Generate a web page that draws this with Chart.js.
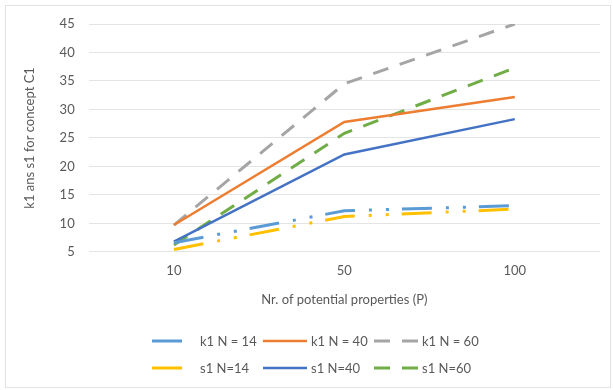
<!DOCTYPE html>
<html>
<head>
<meta charset="utf-8">
<script src="https://cdn.jsdelivr.net/npm/chart.js@4"></script>
<style>
    html, body { margin: 0; padding: 0; background: #fff; }
    #box { position: relative; width: 613px; height: 390px; }
</style>
</head>
<body>
<div id="box"><canvas id="kChart"></canvas></div>
<script>
const categories = ["10", "50", "100"]; // P

// k1
const k1_n14 = [6.6, 12.2, 13.1];
const k1_n40 = [9.7, 27.8, 32.2];
const k1_n60 = [9.7, 34.5, 45.0];

// s1
const s1_n14 = [5.4, 11.2, 12.5];
const s1_n40 = [6.8, 22.1, 28.3];
const s1_n60 = [6.2, 25.8, 37.3];

const yTicks = [5, 10, 15, 20, 25, 30, 35, 40, 45];

const textColor = "#595959";
const fontFamily = "Lato, 'Open Sans', sans-serif";

// frame + white background
const frame = {
    id: "frame",
    beforeDraw(chart) {
        const ctx = chart.ctx;
        ctx.save();
        ctx.fillStyle = "#fff";
        ctx.fillRect(0, 0, chart.width, chart.height);
        ctx.strokeStyle = "#e2e2e2";
        ctx.lineWidth = 1;
        ctx.strokeRect(5.5, 5.5, 605, 382);
        ctx.restore();
    }
};

// legend in two rows of three
const legendGrid = {
    id: "legendGrid",
    afterDraw(chart) {
        const ctx = chart.ctx;
        ctx.save();
        ctx.font = "13px " + fontFamily;
        ctx.fillStyle = textColor;
        ctx.textBaseline = "middle";
        chart.data.datasets.forEach((ds, i) => {
            const x = 152 + (i % 3) * 111;
            const y = 341 + Math.floor(i / 3) * 27;
            ctx.strokeStyle = ds.borderColor;
            ctx.lineWidth = ds.borderWidth;
            ctx.setLineDash(ds.borderDash || []);
            ctx.beginPath();
            ctx.moveTo(x, y);
            ctx.lineTo(x + 44, y);
            ctx.stroke();
            ctx.setLineDash([]);
            ctx.fillText(ds.label, x + 48, y + 1);
        });
        ctx.restore();
    }
};

const dashDotDot = [30, 14, 3, 14, 3, 13];
const dashed = [16, 12];

new Chart(document.getElementById("kChart"), {
    type: "line",
    data: {
        labels: categories,
        datasets: [
            { label: "k1 N = 14", data: k1_n14, borderColor: "#5B9BD5", borderWidth: 3, borderDash: dashDotDot },
            { label: "k1 N = 40", data: k1_n40, borderColor: "#ED7D31", borderWidth: 2.5 },
            { label: "k1 N = 60", data: k1_n60, borderColor: "#A5A5A5", borderWidth: 3, borderDash: dashed },
            { label: "s1 N=14", data: s1_n14, borderColor: "#FFC000", borderWidth: 3, borderDash: dashDotDot },
            { label: "s1 N=40", data: s1_n40, borderColor: "#4472C4", borderWidth: 2.5 },
            { label: "s1 N=60", data: s1_n60, borderColor: "#70AD47", borderWidth: 3, borderDash: dashed },
        ]
    },
    options: {
        responsive: true,
        maintainAspectRatio: false,
        animation: false,
        elements: {
            point: { radius: 0 },
            line: { tension: 0, fill: false }
        },
        layout: { padding: { left: 22, right: 13, top: 24, bottom: 82 } },
        plugins: {
            legend: { display: false },
            tooltip: { enabled: false }
        },
        scales: {
            x: {
                offset: true,
                grid: { display: false },
                border: { display: false },
                ticks: { color: textColor, font: { family: fontFamily, size: 13 }, padding: 3 },
                title: {
                    display: true,
                    text: "Nr. of potential properties (P)",
                    color: textColor,
                    font: { family: fontFamily, size: 13 },
                    padding: { top: 11, bottom: 0 }
                }
            },
            y: {
                min: 5,
                max: 45,
                afterBuildTicks: axis => { axis.ticks = yTicks.map(v => ({ value: v })); },
                grid: { color: "#e4e4e4", drawTicks: false },
                border: { display: false },
                ticks: { color: textColor, font: { family: fontFamily, size: 13 }, padding: 14 },
                title: {
                    display: true,
                    text: "k1 ans s1 for concept C1",
                    color: textColor,
                    font: { family: fontFamily, size: 13 },
                    padding: { top: 0, bottom: 8 }
                }
            }
        }
    },
    plugins: [frame, legendGrid]
});
</script>
</body>
</html>
